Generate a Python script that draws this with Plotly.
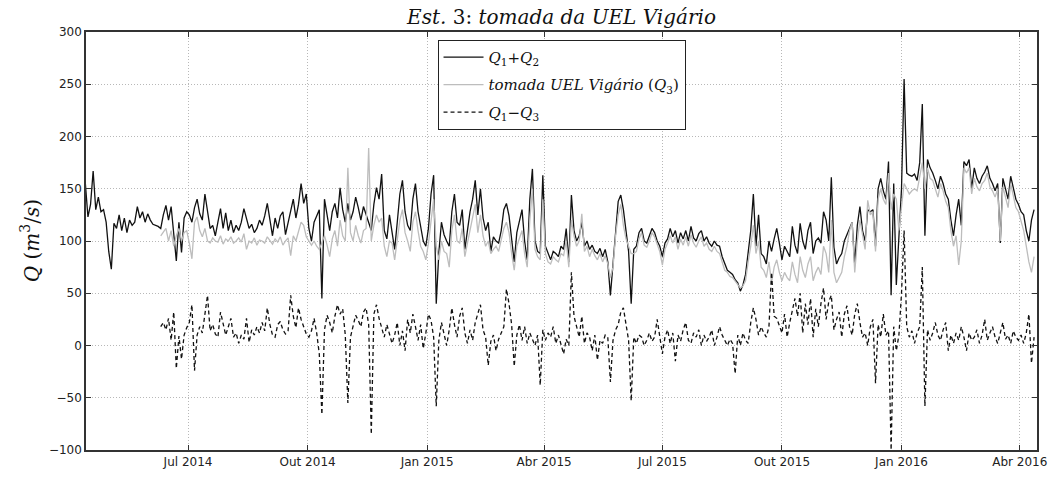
import pandas as pd
import plotly.graph_objects as go

# Daily discharge series, sampled every 2 days
start_q12 = "2014-04-13"
start_q3 = "2014-06-10"
step_days = 2

# Q1 + Q2 (m3/s)
q12 = [
    155, 123, 135, 167, 130, 142, 128, 130, 118, 90, 73, 117, 112, 125, 110,
    122, 108, 120, 115, 118, 133, 122, 128, 118, 126, 120, 116, 115, 114, 112,
    125, 134, 120, 133, 110, 81, 118, 89, 122, 128, 125, 118, 132, 140, 126,
    120, 145, 128, 112, 115, 105, 118, 131, 112, 127, 110, 120, 108, 115, 110,
    118, 131, 120, 112, 116, 108, 112, 120, 115, 124, 136, 118, 105, 122, 112,
    124, 128, 106, 118, 130, 140, 122, 135, 155, 136, 145, 112, 100, 118, 124,
    130, 45, 140, 125, 110, 128, 136, 122, 151, 130, 118, 136, 120, 128, 142,
    132, 120, 133, 126, 118, 110, 135, 151, 140, 164, 110, 102, 125, 110, 92,
    118, 145, 158, 128, 115, 110, 140, 155, 128, 112, 100, 95, 112, 145, 163,
    40, 89, 118, 106, 100, 95, 128, 145, 118, 115, 130, 92, 110, 128, 140,
    158, 125, 150, 122, 110, 118, 90, 104, 100, 98, 110, 130, 136, 124, 100,
    80, 108, 118, 130, 100, 82, 140, 169, 100, 90, 88, 163, 95, 88, 82,
    90, 88, 85, 95, 92, 112, 80, 144, 110, 100, 105, 118, 95, 100, 92,
    96, 90, 88, 93, 85, 92, 80, 48, 78, 115, 138, 144, 130, 110, 90,
    40, 92, 95, 108, 112, 100, 98, 105, 112, 108, 100, 95, 85, 98, 102,
    112, 104, 110, 98, 108, 102, 110, 100, 114, 103, 100, 107, 110, 100, 104,
    98, 95, 100, 96, 95, 85, 78, 72, 70, 68, 63, 60, 52, 58, 68,
    92, 110, 145, 95, 125, 88, 85, 78, 100, 90, 102, 112, 98, 82, 95,
    90, 85, 114, 96, 88, 117, 100, 92, 110, 118, 88, 100, 103, 98, 128,
    120, 100, 161, 94, 78, 84, 88, 100, 106, 112, 118, 77, 115, 133, 110,
    100, 130, 128, 130, 95, 150, 160, 148, 140, 176, 48, 155, 58, 110, 150,
    255, 165, 163, 162, 164, 158, 175, 231, 105, 178, 170, 165, 158, 150, 162,
    155, 145, 140, 120, 105, 125, 140, 115, 176, 172, 178, 150, 170, 160, 155,
    162, 166, 172, 160, 155, 148, 155, 98, 160, 150, 140, 162, 150, 140, 135,
    128, 125, 110, 100, 120, 130,
]

# tomada UEL Vigario, Q3 (m3/s)
q3 = [
    105, 108, 112, 100, 110, 95, 105, 112, 100, 108, 110, 98, 83, 118, 123,
    110, 104, 112, 100, 98, 103, 100, 99, 105, 97, 102, 100, 104, 98, 100,
    103, 99, 107, 92, 100, 98, 103, 96, 101, 100, 98, 104, 100, 97, 102,
    99, 104, 96, 100, 103, 86, 105, 100, 110, 118, 115, 104, 100, 96, 100,
    95, 92, 98, 105, 96, 85, 102, 110, 95, 120, 105, 100, 170, 108, 100,
    115, 105, 98, 110, 112, 189, 100, 115, 125, 118, 122, 95, 85, 100, 98,
    82, 100, 120, 130, 108, 100, 90, 118, 128, 110, 95, 90, 82, 98, 120,
    140, 95, 82, 100, 90, 88, 75, 110, 125, 100, 98, 112, 85, 98, 110,
    122, 135, 108, 125, 105, 95, 100, 88, 92, 95, 90, 100, 112, 118, 108,
    88, 72, 95, 102, 110, 88, 75, 120, 150, 92, 85, 82, 140, 88, 80,
    78, 85, 82, 80, 88, 86, 100, 75, 120, 105, 95, 100, 126, 90, 95,
    85, 92, 86, 82, 88, 80, 86, 78, 65, 75, 105, 125, 135, 115, 102,
    95, 88, 88, 90, 102, 108, 96, 94, 100, 108, 104, 96, 90, 77, 92,
    98, 105, 98, 104, 92, 102, 96, 104, 95, 106, 98, 94, 100, 104, 95,
    98, 92, 90, 95, 90, 88, 80, 72, 70, 66, 65, 62, 58, 55, 57,
    62, 80, 95, 115, 88, 100, 75, 72, 65, 80, 60, 75, 82, 70, 62,
    70, 65, 62, 80, 68, 60, 85, 72, 65, 78, 85, 62, 70, 75, 68,
    95, 88, 70, 120, 70, 60, 65, 70, 85, 95, 110, 118, 70, 100, 120,
    105, 92, 139, 125, 128, 90, 140, 150, 140, 135, 165, 130, 145, 140, 110,
    135, 155, 150, 145, 148, 150, 148, 160, 175, 150, 170, 160, 158, 150, 142,
    155, 148, 138, 132, 110, 95, 105, 77, 100, 170, 165, 170, 145, 160, 152,
    148, 155, 158, 165, 152, 148, 142, 150, 100, 152, 142, 132, 155, 142, 132,
    128, 118, 110, 95, 80, 70, 85,
]

# Q1 - Q3 (m3/s)
q1_minus_q3 = [
    18, 22, 15, 26, 5, 32, -22, 9, -13, 10, 17, 22, 39, -24, 10,
    18, 12, 30, 48, 14, 20, 11, 8, 32, 22, 10, 18, 26, 8, 12,
    2, 10, 6, 26, 3, 15, 10, 18, 12, 22, 14, 36, 20, 10, 8,
    20, 23, 15, 11, 14, 48, 28, 17, 36, 25, 18, 11, 8, 14, 26,
    12, -8, -66, 15, 29, 22, 12, 28, 39, 30, 35, 10, -55, 8, 20,
    29, 24, 18, 32, 36, 20, -85, 30, 39, 26, 18, 8, 20, 12, 2,
    10, 22, 0, 14, -5, 25, 12, 30, 18, 5, 20, -3, 12, 30, 24,
    8, -58, 5, 22, 12, 0, 15, 36, 20, 8, 28, 36, 12, 2, 15,
    5, 22, 30, 39, 15, 8, -19, 4, 10, -5, 6, 12, 18, 54, 40,
    20, -20, 10, 20, 5, 18, 2, 12, 6, 0, 10, -38, 15, 5, 12,
    8, 18, 2, 10, 2, -8, 6, 0, 70, 28, 18, 8, 28, 2, 12,
    8, -5, 10, -14, 5, 2, 10, 8, -35, 5, 15, 20, 32, 36, 22,
    5, -53, 8, 2, 10, 8, 0, 5, 12, 4, 8, 25, 6, -8, 8,
    15, 2, 12, -15, 10, 4, 15, 22, 5, 2, 12, 8, 15, 0, 10,
    4, 8, 15, 0, 8, 18, 10, 5, 0, 6, 2, -27, 10, 0, 12,
    5, 2, 22, 36, 25, 10, 18, 12, 8, 18, 70, 28, 26, 18, 12,
    30, 8, 22, 35, 45, 28, 50, 12, 40, 20, 45, 8, 35, 18, 40,
    55, 25, 42, 48, 15, 25, 32, 8, 30, 38, 18, 10, 30, 40, 22,
    8, 12, 0, 18, 25, -36, 20, 8, 30, 10, 14, -100, 18, -5, 10,
    50, 110, 18, 8, 14, 2, 12, 18, 75, -58, 15, 5, 12, 22, 10,
    5, 15, 22, -5, 10, 2, 12, 5, 18, 8, -5, 12, 5, 8, 15,
    2, 10, 25, 5, 12, 18, 8, 2, 12, 22, 6, 10, 2, 14, 8,
    5, 10, 2, 12, 30, -17, 8,
]

# Axis ticks
tick_dates = ["2014-07-01", "2014-10-01", "2015-01-01", "2015-04-01",
              "2015-07-01", "2015-10-01", "2016-01-01", "2016-04-01"]
tick_labels = ["Jul 2014", "Out 2014", "Jan 2015", "Abr 2015",
               "Jul 2015", "Out 2015", "Jan 2016", "Abr 2016"]
y_ticks = [-100, -50, 0, 50, 100, 150, 200, 250, 300]

dates_q12 = pd.date_range(start_q12, periods=len(q12), freq=f"{step_days}D")
dates_q3 = pd.date_range(start_q3, periods=len(q3), freq=f"{step_days}D")

fig = go.Figure()
fig.add_trace(go.Scatter(
    x=dates_q12, y=q12, mode="lines",
    name="<i>Q</i><sub>1</sub>+<i>Q</i><sub>2</sub>",
    line=dict(color="#111111", width=1.3), legendgroup="a",
))
fig.add_trace(go.Scatter(
    x=dates_q3, y=q3, mode="lines",
    name="<i>tomada UEL Vigário</i> (<i>Q</i><sub>3</sub>)",
    line=dict(color="#bdbdbd", width=1.3), legendgroup="b",
))
fig.add_trace(go.Scatter(
    x=dates_q3, y=q1_minus_q3, mode="lines",
    name="<i>Q</i><sub>1</sub>−<i>Q</i><sub>3</sub>",
    line=dict(color="#111111", width=1.3, dash="4px,3px"), legendgroup="c",
))

axis_common = dict(
    showgrid=True, gridcolor="#b8b8b8", gridwidth=1, griddash="1px,2px",
    showline=True, linecolor="#333333", linewidth=1.5, mirror="ticks",
    ticks="inside", ticklen=5, tickcolor="#333333",
    tickfont=dict(family="DejaVu Sans", size=12, color="#222222"),
    zeroline=False,
)

fig.update_xaxes(
    type="date", range=["2014-04-13 12:00", "2016-04-14 06:00"],
    tickvals=tick_dates, ticktext=tick_labels, **axis_common,
)
fig.update_yaxes(range=[-100, 300], tickvals=y_ticks, **axis_common)

fig.update_layout(
    width=1059, height=481,
    margin=dict(l=86, r=18, t=32, b=23),
    paper_bgcolor="white", plot_bgcolor="white",
    title=dict(
        text="<i>Est.</i> 3: <i>tomada da UEL Vigário</i>",
        font=dict(family="DejaVu Serif", size=20, color="#111111"),
        x=0.5, xref="paper", xanchor="center",
        y=1 - 17 / 481, yref="container", yanchor="middle",
    ),
    legend=dict(
        x=(439 - 86) / 955, y=(458 - 40) / 426, xanchor="left", yanchor="top",
        bgcolor="white", bordercolor="#222222", borderwidth=1,
        font=dict(family="DejaVu Serif", size=15, color="#111111"),
        tracegroupgap=5, itemwidth=40,
    ),
    showlegend=True,
    annotations=[dict(
        text="<i>Q</i> (<i>m</i><sup>3</sup>/<i>s</i>)",
        xref="paper", yref="paper", x=(30 - 86) / 955, y=0.5,
        xanchor="center", yanchor="middle", textangle=-90, showarrow=False,
        font=dict(family="DejaVu Serif", size=20, color="#111111"),
    )],
)

fig.write_html("out.html")
